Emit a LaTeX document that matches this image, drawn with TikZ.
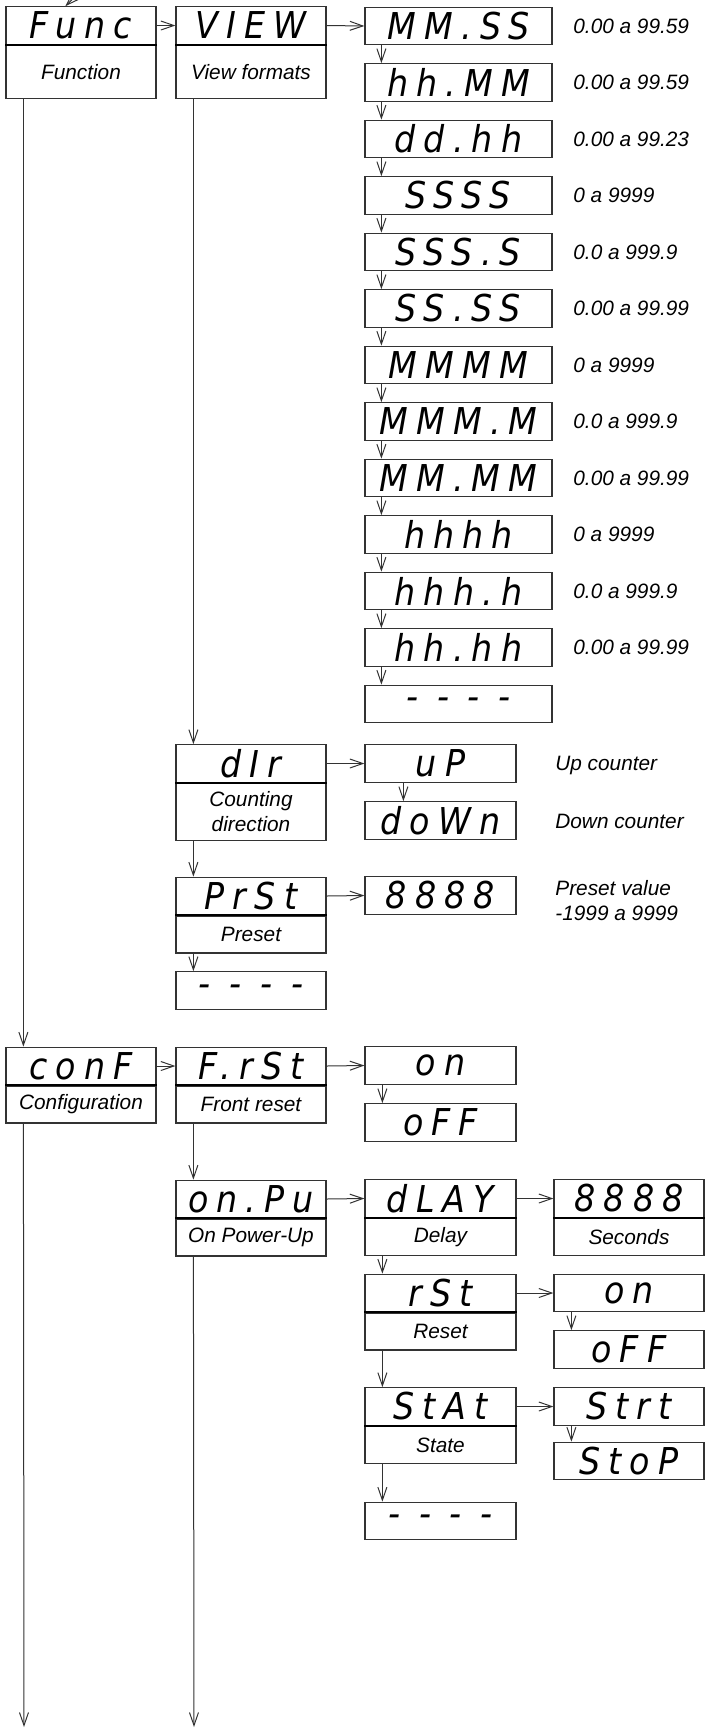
\documentclass[tikz,border=0pt]{standalone}
\usepackage{fontspec}
\usetikzlibrary{arrows.meta}
\setmainfont{Liberation Sans}
\IfFontExistsTF{DejaVu Sans Condensed}
  {\newfontfamily\segfont[LetterSpace=22]{DejaVu Sans Condensed}}
  {\newfontfamily\segfont[LetterSpace=15]{DejaVu Sans}}
\newcommand\dispfont{\segfont\itshape\fontsize{18.5}{18.5}\selectfont}
\newcommand\labfont{\itshape\fontsize{10.4}{12.5}\selectfont}

\begin{document}
\begin{tikzpicture}[x=0.5pt, y=-0.5pt, >={Straight Barb[length=6.5pt,width=4.5pt]},
  disp/.style={draw=black!80, line width=0.6pt, minimum width=75pt, minimum height=18.75pt, inner sep=0pt, font=\dispfont},
  dispwide/.style={disp, minimum width=93.5pt},
  dispsmall/.style={disp, minimum width=75.5pt},
  lbl/.style={draw=black!80, line width=0.6pt, minimum width=75pt, minimum height=18.5pt, inner sep=0pt, align=center, anchor=north, font=\labfont},
  rangetxt/.style={anchor=west, inner sep=0pt, align=left, font=\labfont},
  conn/.style={draw=black!80, line width=0.5pt}]

	\useasboundingbox (0,0) rectangle (707,1731);

	% function menu
	\node[disp] (func) at (81,25.5) {Func};
	\node[lbl, minimum height=26.5pt] (funcL) at (func.south) {Function};
	\node[disp] (view) at (251,25.5) {VIEW};
	\node[lbl, minimum height=26.5pt] (viewL) at (view.south) {View formats};
	\coordinate (entry) at (92,-20);

	% view formats
	\node[dispwide] (v1) at (458.5,26) {MM.SS};
	\node[dispwide] (v2) at (458.5,82.5) {hh.MM};
	\node[dispwide] (v3) at (458.5,139) {dd.hh};
	\node[dispwide] (v4) at (458.5,195.5) {SSSS};
	\node[dispwide] (v5) at (458.5,252) {SSS.S};
	\node[dispwide] (v6) at (458.5,308.5) {SS.SS};
	\node[dispwide] (v7) at (458.5,365) {MMMM};
	\node[dispwide] (v8) at (458.5,421.5) {MMM.M};
	\node[dispwide] (v9) at (458.5,478) {MM.MM};
	\node[dispwide] (v10) at (458.5,534.5) {hhhh};
	\node[dispwide] (v11) at (458.5,591) {hhh.h};
	\node[dispwide] (v12) at (458.5,647.5) {hh.hh};
	\node[dispwide] (v13) at (458.5,704) {- - - -};

	% ranges
	\node[rangetxt] (r1) at (573,26) {0.00 a 99.59};
	\node[rangetxt] (r2) at (573,82.5) {0.00 a 99.59};
	\node[rangetxt] (r3) at (573,139) {0.00 a 99.23};
	\node[rangetxt] (r4) at (573,195.5) {0 a 9999};
	\node[rangetxt] (r5) at (573,252) {0.0 a 999.9};
	\node[rangetxt] (r6) at (573,308.5) {0.00 a 99.99};
	\node[rangetxt] (r7) at (573,365) {0 a 9999};
	\node[rangetxt] (r8) at (573,421.5) {0.0 a 999.9};
	\node[rangetxt] (r9) at (573,478) {0.00 a 99.99};
	\node[rangetxt] (r10) at (573,534.5) {0 a 9999};
	\node[rangetxt] (r11) at (573,591) {0.0 a 999.9};
	\node[rangetxt] (r12) at (573,647.5) {0.00 a 99.99};

	% counting direction
	\node[disp] (dir) at (251,763.5) {dIr};
	\node[lbl, minimum height=28.5pt] (dirL) at (dir.south) {Counting\\direction};
	\node[dispsmall] (up) at (440.5,763.5) {uP};
	\node[dispsmall] (down) at (440.5,820.5) {doWn};
	\node[rangetxt] (upT) at (555,765) {Up counter};
	\node[rangetxt] (downT) at (555,821) {Down counter};

	% preset
	\node[disp] (prst) at (251,896) {PrSt};
	\node[lbl] (prstL) at (prst.south) {Preset};
	\node[dispsmall] (pval) at (440.5,895.5) {8888};
	\node[rangetxt] (pvalT) at (555,901) {Preset value\\-1999 a 9999};
	\node[disp] (fend) at (251,990.5) {- - - -};

	% configuration menu
	\node[disp] (conf) at (81,1066) {conF};
	\node[lbl] (confL) at (conf.south) {Configuration};
	\node[disp] (frst) at (251,1066) {F.rSt};
	\node[lbl] (frstL) at (frst.south) {Front reset};
	\node[dispsmall] (fon) at (440.5,1065.5) {on};
	\node[dispsmall] (foff) at (440.5,1122.5) {oFF};

	% on power-up
	\node[disp] (onpu) at (251,1199) {on.Pu};
	\node[lbl] (onpuL) at (onpu.south) {On Power-Up};
	\node[dispsmall] (dlay) at (440.5,1198.5) {dLAY};
	\node[lbl, minimum width=75.5pt] (dlayL) at (dlay.south) {Delay};
	\node[disp] (secs) at (629,1198.5) {8888};
	\node[lbl] (secsL) at (secs.south) {Seconds};
	\node[dispsmall] (rst) at (440.5,1293) {rSt};
	\node[lbl, minimum width=75.5pt] (rstL) at (rst.south) {Reset};
	\node[disp] (ron) at (629,1293) {on};
	\node[disp] (roff) at (629,1349.5) {oFF};
	\node[dispsmall] (stat) at (440.5,1406.5) {StAt};
	\node[lbl, minimum width=75.5pt] (statL) at (stat.south) {State};
	\node[disp] (strt) at (629,1406.5) {Strt};
	\node[disp] (stop) at (629,1461) {StoP};
	\node[dispsmall] (pend) at (440.5,1521) {- - - -};

	\coordinate (end1) at (24,1727);
	\coordinate (end2) at (194,1727);

	% dividers
	\foreach \n in {funcL,viewL,dirL,prstL,confL,frstL,onpuL,dlayL,secsL,rstL,statL}
		\draw[line width=1pt] (\n.north west) -- (\n.north east);

	% connectors
	\draw[conn, ->] (entry) -- ([xshift=30pt]func.north west);
	\draw[conn, ->] (func.east) -- (view.west);
	\draw[conn, ->] (view.east) -- (v1.west);
	\draw[conn, ->] ([xshift=8.5pt]v1.south west) -- ([xshift=8.5pt]v2.north west);
	\draw[conn, ->] ([xshift=8.5pt]v2.south west) -- ([xshift=8.5pt]v3.north west);
	\draw[conn, ->] ([xshift=8.5pt]v3.south west) -- ([xshift=8.5pt]v4.north west);
	\draw[conn, ->] ([xshift=8.5pt]v4.south west) -- ([xshift=8.5pt]v5.north west);
	\draw[conn, ->] ([xshift=8.5pt]v5.south west) -- ([xshift=8.5pt]v6.north west);
	\draw[conn, ->] ([xshift=8.5pt]v6.south west) -- ([xshift=8.5pt]v7.north west);
	\draw[conn, ->] ([xshift=8.5pt]v7.south west) -- ([xshift=8.5pt]v8.north west);
	\draw[conn, ->] ([xshift=8.5pt]v8.south west) -- ([xshift=8.5pt]v9.north west);
	\draw[conn, ->] ([xshift=8.5pt]v9.south west) -- ([xshift=8.5pt]v10.north west);
	\draw[conn, ->] ([xshift=8.5pt]v10.south west) -- ([xshift=8.5pt]v11.north west);
	\draw[conn, ->] ([xshift=8.5pt]v11.south west) -- ([xshift=8.5pt]v12.north west);
	\draw[conn, ->] ([xshift=8.5pt]v12.south west) -- ([xshift=8.5pt]v13.north west);
	\draw[conn, ->] ([xshift=9pt]viewL.south west) -- ([xshift=9pt]dir.north west);
	\draw[conn, ->] (dir.east) -- (up.west);
	\draw[conn, ->] ([xshift=19.5pt]up.south west) -- ([xshift=19.5pt]down.north west);
	\draw[conn, ->] ([xshift=9pt]dirL.south west) -- ([xshift=9pt]prst.north west);
	\draw[conn, ->] (prst.east) -- (pval.west);
	\draw[conn, ->] ([xshift=9pt]prstL.south west) -- ([xshift=9pt]fend.north west);
	\draw[conn, ->] ([xshift=9pt]funcL.south west) -- ([xshift=9pt]conf.north west);
	\draw[conn, ->] (conf.east) -- (frst.west);
	\draw[conn, ->] (frst.east) -- (fon.west);
	\draw[conn, ->] ([xshift=9pt]fon.south west) -- ([xshift=9pt]foff.north west);
	\draw[conn, ->] ([xshift=9pt]frstL.south west) -- ([xshift=9pt]onpu.north west);
	\draw[conn, ->] (onpu.east) -- (dlay.west);
	\draw[conn, ->] (dlay.east) -- (secs.west);
	\draw[conn, ->] ([xshift=9pt]dlayL.south west) -- ([xshift=9pt]rst.north west);
	\draw[conn, ->] (rst.east) -- (ron.west);
	\draw[conn, ->] ([xshift=9pt]ron.south west) -- ([xshift=9pt]roff.north west);
	\draw[conn, ->] ([xshift=9pt]rstL.south west) -- ([xshift=9pt]stat.north west);
	\draw[conn, ->] (stat.east) -- (strt.west);
	\draw[conn, ->] ([xshift=9pt]strt.south west) -- ([xshift=9pt]stop.north west);
	\draw[conn, ->] ([xshift=9pt]statL.south west) -- ([xshift=9pt]pend.north west);
	\draw[conn, ->] ([xshift=9pt]confL.south west) -- (end1);
	\draw[conn, ->] ([xshift=9pt]onpuL.south west) -- (end2);

\end{tikzpicture}
\end{document}
